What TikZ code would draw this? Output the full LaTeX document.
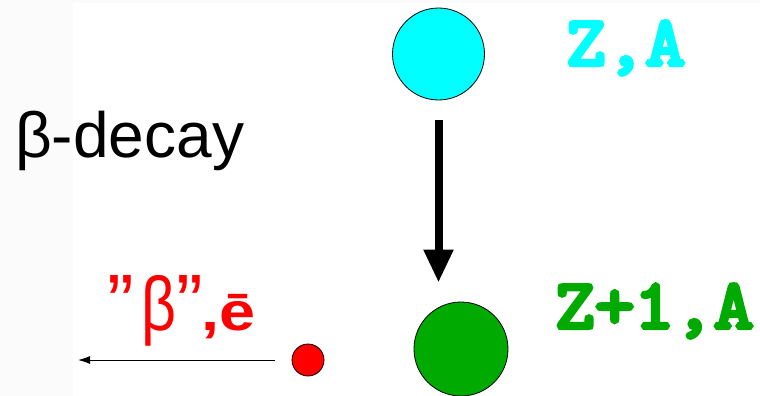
\documentclass[tikz,border=0pt]{standalone}
\usepackage{fontspec}
\setmainfont{Liberation Sans}
\newfontfamily\monob[FakeBold=6,FakeStretch=1.1]{Latin Modern Mono}
\usetikzlibrary{arrows.meta}
\definecolor{nucA}{HTML}{00FFFF}
\definecolor{nucB}{HTML}{00AA00}
\definecolor{elec}{HTML}{FF0000}
\tikzset{
  nucleus/.style={circle,draw=black,line width=0.8pt,inner sep=0pt},
  lab/.style={inner sep=0pt,font=\monob\fontsize{70}{70}\selectfont},
}
\begin{document}
\begin{tikzpicture}[x=1pt,y=-1pt]
\useasboundingbox (0,0) rectangle (760,396);
\fill[white] (0,0) rectangle (760,396);
\fill[gray!3] (0,0) rectangle (73,396);
\fill[gray!3] (0,0) rectangle (760,3);
% nuclei
\node[nucleus,fill=nucA,minimum size=92pt] (za) at (438.5,54) {};
\node[nucleus,fill=nucB,minimum size=94pt] (zb) at (461,349) {};
\node[nucleus,fill=elec,minimum size=32pt] (e) at (308,360) {};
\coordinate (eend) at (78,360);
% labels
\node[lab,text=nucA,anchor=base west] (tza) at (566,65) {Z,A};
\node[lab,text=nucB,anchor=base west] (tzb) at (555,328) {Z+1,A};
\node[inner sep=0pt,anchor=base west,font=\fontsize{64}{64}\selectfont] (title) at (15,157) {β-decay};
\node[inner sep=0pt,anchor=base west,text=elec] (beta) at (107,330)
  {{\fontsize{80}{80}\selectfont\symbol{34}\hspace{8pt}\scalebox{0.8}[1]{\fontsize{76}{76}\selectfont β}\hspace{0pt}\symbol{34}}%
   \hspace{-2pt}{\bfseries\fontsize{54}{54}\selectfont\scalebox{1.2}[1]{,ē}}};
% arrows
\draw[line width=8pt,-{Triangle[width=28pt,length=33pt]},shorten <=20pt,shorten >=19pt]
  (za.south) -- (za.south |- zb.north);
\draw[line width=1pt,-{Latex[length=12pt,width=8pt]},shorten <=17pt] (e.west) -- (eend);
\end{tikzpicture}
\end{document}
